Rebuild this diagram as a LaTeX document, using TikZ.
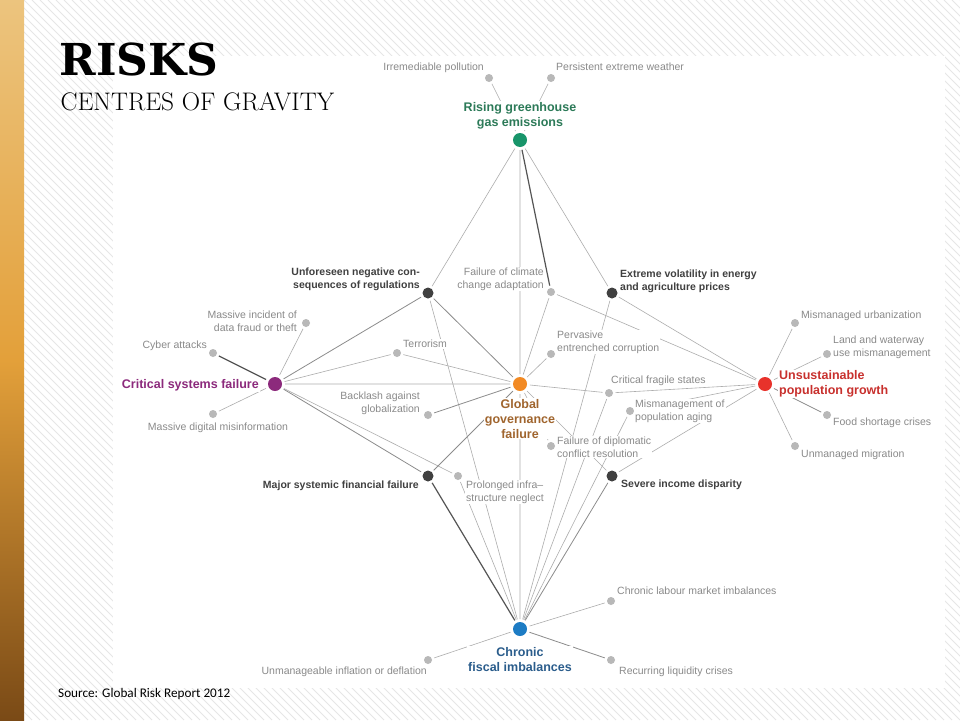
\documentclass[tikz,border=0pt]{standalone}
\usepackage{fontspec}
\newfontfamily\sansf{Liberation Sans}
\newfontfamily\titlef{DejaVu Serif}
\newfontfamily\srcf{Carlito}
\usetikzlibrary{positioning}

\definecolor{stripec}{HTML}{E6E6E6}
\definecolor{bartop}{HTML}{ECC47E}
\definecolor{barmid}{HTML}{E3A03A}
\definecolor{barbot}{HTML}{7A4A16}
\definecolor{leafc}{HTML}{B8B8B8}
\definecolor{txtc}{HTML}{8A8A8A}
\definecolor{knotc}{HTML}{404040}
\definecolor{linkc}{HTML}{ADADAD}
\definecolor{linkmc}{HTML}{8C8C8C}
\definecolor{linkdc}{HTML}{555555}
\definecolor{ghgc}{HTML}{18956A}
\definecolor{ghgt}{HTML}{2C7A58}
\definecolor{ggfc}{HTML}{F28A24}
\definecolor{ggft}{HTML}{A0652E}
\definecolor{csfc}{HTML}{8C2A7C}
\definecolor{upgc}{HTML}{E8322B}
\definecolor{upgt}{HTML}{C8302D}
\definecolor{cfic}{HTML}{1D7CC4}
\definecolor{cfit}{HTML}{2B5D8C}

\begin{document}
\begin{tikzpicture}[
x=1pt,y=-1pt,
hub/.style={
  circle,
  inner sep=0pt,
  minimum size=14pt,
  outer sep=3pt
},
knot/.style={
  circle,
  fill=knotc,
  inner sep=0pt,
  minimum size=11pt,
  outer sep=2.5pt
},
leaf/.style={
  circle,
  fill=leafc,
  inner sep=0pt,
  minimum size=8pt,
  outer sep=2.5pt
},
txt/.style={
  font=\sansf\fontsize{10.5}{13}\selectfont,
  text=txtc,
  fill=white,
  inner sep=1pt
},
ktxt/.style={
  font=\sansf\bfseries\fontsize{10.5}{13}\selectfont,
  text=knotc,
  fill=white,
  inner sep=1pt
},
htxt/.style={
  font=\sansf\bfseries\fontsize{12.5}{15}\selectfont,
  fill=white,
  inner sep=1pt
},
link/.style={draw=linkc, line width=0.6pt},
linkm/.style={draw=linkmc, line width=0.8pt},
linkd/.style={draw=linkdc, line width=1.2pt}
]
\useasboundingbox (0,0) rectangle (960,720);

% background
\fill[white] (0,0) rectangle (960,720);
\begin{scope}
\clip (24,0) rectangle (960,720);
\foreach \k in {-720,-712,...,960}
  \draw[stripec, line width=0.8pt] (\k,0) -- ++(720,720);
\end{scope}
\shade[top color=bartop, bottom color=barbot, middle color=barmid] (0,0) rectangle (24,720);
\fill[white] (113,56) rectangle (945,688);

\node[anchor=base west, font=\titlef\bfseries\fontsize{44}{48}\selectfont] 
  (title) at (56,75) {RISKS};
\node[anchor=base west, font=\fontsize{25.4}{28}\selectfont] 
  (subtitle) at (57,110) {CENTRES OF GRAVITY};
\node[anchor=base west, font=\srcf\fontsize{13.2}{15}\selectfont, inner sep=0pt] 
  (source) at (58,697) {Source: Global Risk Report 2012};

% centres
\node[hub, fill=ghgc] (ghg) at (520,140) {};
\node[hub, fill=ggfc] (ggf) at (520,384) {};
\node[hub, fill=csfc] (csf) at (275,384) {};
\node[hub, fill=upgc] (upg) at (765,384) {};
\node[hub, fill=cfic] (cfi) at (520,629) {};

\node[knot] (unf) at (428,293) {};
\node[knot] (evp) at (612,293) {};
\node[knot] (msf) at (428,476) {};
\node[knot] (sid) at (612,476) {};

\node[leaf] (pol) at (489,78) {};
\node[leaf] (wea) at (551,78) {};
\node[leaf] (cca) at (551,292) {};
\node[leaf] (pec) at (551,354) {};
\node[leaf] (ter) at (397,353) {};
\node[leaf] (bag) at (428,415) {};
\node[leaf] (dft) at (306,323) {};
\node[leaf] (cyb) at (213,353) {};
\node[leaf] (mdm) at (213,414) {};
\node[leaf] (pin) at (458,476) {};
\node[leaf] (cfs) at (609,393) {};
\node[leaf] (mpa) at (630,411) {};
\node[leaf] (fdc) at (551,446) {};
\node[leaf] (mur) at (795,323) {};
\node[leaf] (lwm) at (827,354) {};
\node[leaf] (fsc) at (827,415) {};
\node[leaf] (umi) at (795,446) {};
\node[leaf] (clm) at (611,601) {};
\node[leaf] (uid) at (428,660) {};
\node[leaf] (rlc) at (611,660) {};

% links
\draw[link] (ghg) -- (pol) (ghg) -- (wea) (ghg) -- (unf) (ghg) -- (ggf) (ghg) -- (evp);
\draw[linkd] (ghg) -- (cca);
\draw[linkm] (unf) -- (csf) (unf) -- (ggf);
\draw[link] (unf) -- (cfi);
\draw[link] (cca) -- (ggf) (cca) -- (upg);
\draw[link] (evp) -- (upg) (evp) -- (cfi);
\draw[link] (csf) -- (ter) (ter) -- (ggf) (csf) -- (ggf);
\draw[linkd] (csf) -- (cyb);
\draw[link] (csf) -- (dft) (csf) -- (mdm) (csf) -- (pin);
\draw[linkm] (csf) -- (msf) (bag) -- (ggf) (msf) -- (ggf);
\draw[linkd] (msf) -- (cfi);
\draw[link] (pin) -- (cfi);
\draw[link] (ggf) -- (pec) (ggf) -- (cfs) (ggf) -- (fdc) (ggf) -- (sid) (ggf) -- (cfi);
\draw[link] (cfs) -- (upg) (cfs) -- (cfi);
\draw[link] (mpa) -- (upg) (mpa) -- (cfi);
\draw[link] (sid) -- (upg);
\draw[linkm] (sid) -- (cfi);
\draw[link] (upg) -- (mur) (upg) -- (lwm) (upg) -- (umi);
\draw[linkm] (upg) -- (fsc);
\draw[link] (cfi) -- (clm) (cfi) -- (uid);
\draw[linkm] (cfi) -- (rlc);

% labels
\node[htxt, text=ghgt, align=center, above=0pt of ghg] (ghgL) {Rising greenhouse\\gas emissions};
\node[htxt, text=ggft, align=center, below=4pt of ggf] (ggfL) {Global\\governance\\failure};
\node[htxt, text=csfc, left=5pt of csf, yshift=-1pt] (csfL) {Critical systems failure};
\node[htxt, text=upgt, align=left, right=3pt of upg] (upgL) {Unsustainable\\population growth};
\node[htxt, text=cfit, align=center, below=7pt of cfi] (cfiL) {Chronic\\fiscal imbalances};

\node[ktxt, align=right, anchor=east] (unfL) at (421,279) {Unforeseen negative con-\\sequences of regulations};
\node[ktxt, align=left, anchor=west] (evpL) at (619,281) {Extreme volatility in energy\\and agriculture prices};
\node[ktxt, left=0pt of msf, yshift=-10pt] (msfL) {Major systemic financial failure};
\node[ktxt, right=0pt of sid, yshift=-9pt] (sidL) {Severe income disparity};

\node[txt, anchor=east] (polL) at (485,68) {Irremediable pollution};
\node[txt, anchor=west] (weaL) at (555,67) {Persistent extreme weather};
\node[txt, align=right, anchor=east] (ccaL) at (545,279) {Failure of climate\\change adaptation};
\node[txt, align=left, anchor=west] (pecL) at (556,342) {Pervasive\\entrenched corruption};
\node[txt, anchor=west] (terL) at (402,344) {Terrorism};
\node[txt, align=right, anchor=east] (bagL) at (421,403) {Backlash against\\globalization};
\node[txt, align=right, anchor=east] (dftL) at (298,321) {Massive incident of\\data fraud or theft};
\node[txt, anchor=east] (cybL) at (208,346) {Cyber attacks};
\node[txt] (mdmL) at (218,428) {Massive digital misinformation};
\node[txt, align=left, anchor=west] (pinL) at (465,492) {Prolonged infra–\\structure neglect};
\node[txt, anchor=west] (cfsL) at (610,381) {Critical fragile states};
\node[txt, align=left, anchor=west] (mpaL) at (634,411) {Mismanagement of\\population aging};
\node[txt, align=left, anchor=west] (fdcL) at (556,447) {Failure of diplomatic\\conflict resolution};
\node[txt, anchor=west] (murL) at (800,316) {Mismanaged urbanization};
\node[txt, align=left, anchor=west] (lwmL) at (832,347) {Land and waterway\\use mismanagement};
\node[txt, anchor=west] (fscL) at (832,423) {Food shortage crises};
\node[txt, anchor=west] (umiL) at (800,455) {Unmanaged migration};
\node[txt, anchor=west] (clmL) at (616,591) {Chronic labour market imbalances};
\node[txt, anchor=east] (uidL) at (428,672) {Unmanageable inflation or deflation};
\node[txt, anchor=west] (rlcL) at (618,672) {Recurring liquidity crises};

\end{tikzpicture}
\end{document}
